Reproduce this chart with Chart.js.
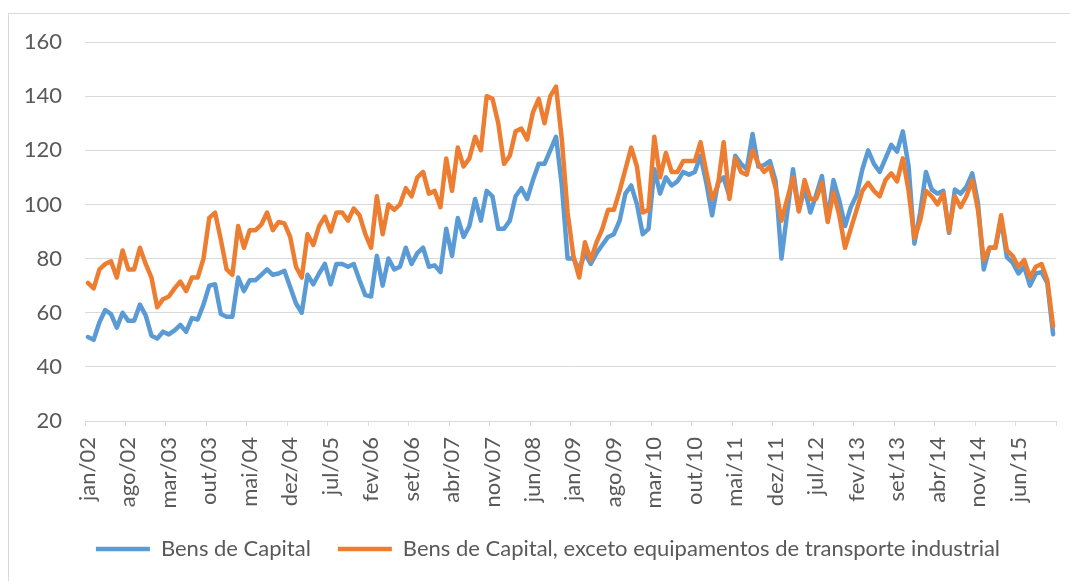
<!DOCTYPE html>
<html>
<head>
<meta charset="utf-8">
<script src="https://cdn.jsdelivr.net/npm/chart.js@4.4.1/dist/chart.umd.min.js"></script>
<style>
  html, body { margin: 0; padding: 0; background: #fff; overflow: hidden; }
  #frame { position: absolute; left: 8px; top: 13px; width: 1100px; height: 620px; border: 1px solid #d9d9d9; }
  #chart { position: absolute; left: 0; top: 0; }
</style>
</head>
<body>
<div id="frame"></div>
<canvas id="chart" width="1070" height="581"></canvas>
<script>
// months / years used for the category labels (jan/02 .. dez/15)
const monthNames = ['jan', 'fev', 'mar', 'abr', 'mai', 'jun', 'jul', 'ago', 'set', 'out', 'nov', 'dez'];
const years = ['02', '03', '04', '05', '06', '07', '08', '09', '10', '11', '12', '13', '14', '15'];

// Bens de Capital (one row per year)
const bensCapital = [
  51, 50, 56.5, 61, 59.5, 54.5, 60, 57, 57, 63, 59, 51.5,
  50.5, 53, 52, 53.5, 55.5, 53, 58, 57.5, 63, 70, 70.5, 59.5,
  58.5, 58.5, 73, 68, 72, 72, 74, 76, 74, 74.5, 75.5, 69.5,
  63.5, 60, 74, 70.5, 74.5, 78, 70.5, 78, 78, 77, 78, 72,
  66.5, 66, 81, 70, 80, 76, 77, 84, 78, 82, 84, 77,
  77.5, 75, 91, 81, 95, 88, 92, 102, 94, 105, 103, 91,
  91, 94, 103, 106, 102, 109, 115, 115, 120, 125, 107, 80,
  80, 76, 82, 78, 82, 85, 88, 89, 94, 104, 107, 100,
  89, 91, 113, 104, 110, 107, 108.5, 112, 111, 112, 118, 108,
  96, 108, 110, 103, 118, 115, 113, 126, 114, 114.5, 116, 108.5,
  80, 97, 113, 97.5, 106, 97, 103.5, 110.5, 94.5, 109, 101.5, 92,
  99, 103.5, 113, 120, 115, 112, 117, 122, 119.5, 127, 114, 85.5,
  97, 112, 105.5, 104, 105, 89.5, 105.5, 104, 106.5, 111.5, 100.5, 76,
  84, 84, 94.5, 80.5, 78.5, 74.5, 77, 70, 74.5, 75, 71, 52
];

// Bens de Capital, exceto equipamentos de transporte industrial
const bensCapitalExceto = [
  71, 69, 76, 78, 79, 73, 83, 76, 76, 84, 78, 73,
  62, 65, 66, 69, 71.5, 68, 73, 73, 80, 95, 97, 87,
  76, 74, 92, 84, 90.5, 90.5, 92.5, 97, 90.5, 93.5, 93, 88,
  77, 73, 89, 85, 92, 95.5, 90, 97, 97, 94, 98.5, 96,
  89, 84, 103, 89, 100, 98, 100, 106, 103, 110, 112, 104,
  105, 99, 117, 105, 121, 114, 117, 125, 120, 140, 139, 130,
  115, 118, 127, 128, 124, 134, 139, 130, 140, 143.5, 124, 97,
  81, 73, 86, 79.5, 86, 91, 98, 98, 105, 113, 121, 114,
  97, 98, 125, 110, 119, 112, 112, 116, 116, 116, 123, 112,
  102, 107, 123, 102, 117, 112, 111, 120, 115, 112, 114, 106,
  94, 102, 110, 97.5, 109, 102, 102, 108, 93.5, 104.5, 96, 84,
  91, 98, 105, 108, 105, 103, 109, 111.5, 108.5, 117, 105, 87.5,
  94, 105, 103, 100, 104, 90, 103, 99, 103, 109, 98, 79.5,
  84, 84, 96, 83, 81, 77, 79.5, 73, 77, 78, 72, 55
];

const categories = [];
years.forEach(y => monthNames.forEach(m => categories.push(m + '/' + y)));

const labelEvery = 7;
const gridColor = '#d9d9d9';
const textColor = '#595959';

// nudge the legend a bit to the right, like the original
const legendShift = {
  id: 'legendShift',
  afterLayout(chart) {
    if (chart.legend) {
      chart.legend.left += 20;
      chart.legend.right += 20;
    }
  }
};

function draw() {
  Chart.defaults.font.family = 'Lato, "Open Sans", sans-serif';
  Chart.defaults.font.size = 22;
  Chart.defaults.color = textColor;

  new Chart(document.getElementById('chart'), {
    type: 'line',
    data: {
      labels: categories,
      datasets: [{
        label: 'Bens de Capital',
        data: bensCapital,
        borderColor: '#5b9bd5',
        backgroundColor: '#5b9bd5',
        borderWidth: 4.5,
        borderJoinStyle: 'round',
        borderCapStyle: 'round',
        pointRadius: 0,
        tension: 0,
        order: 1
      }, {
        label: 'Bens de Capital, exceto equipamentos de transporte industrial',
        data: bensCapitalExceto,
        borderColor: '#ed7d31',
        backgroundColor: '#ed7d31',
        borderWidth: 4.5,
        borderJoinStyle: 'round',
        borderCapStyle: 'round',
        pointRadius: 0,
        tension: 0,
        order: 0
      }]
    },
    options: {
      responsive: false,
      animation: false,
      layout: { padding: { left: 0, right: 14, top: 42, bottom: 11 } },
      plugins: {
        tooltip: { enabled: false },
        legend: {
          position: 'bottom',
          labels: {
            usePointStyle: true,
            pointStyle: 'line',
            pointStyleWidth: 54,
            padding: 27,
            color: textColor,
            font: { size: 22 },
            sort: (a, b) => a.datasetIndex - b.datasetIndex
          }
        }
      },
      scales: {
        x: {
          type: 'category',
          offset: true,
          afterFit: (scale) => {
            scale.height = 90;
            scale.paddingLeft = 0;
            scale.paddingRight = 0;
          },
          grid: {
            offset: true,
            drawOnChartArea: false,
            drawTicks: true,
            tickLength: 5,
            color: (c) => (c.index === undefined || c.index % labelEvery === 0) ? gridColor : 'rgba(0,0,0,0)'
          },
          border: { color: gridColor },
          ticks: {
            autoSkip: false,
            minRotation: 90,
            maxRotation: 90,
            padding: 11,
            color: textColor,
            callback: function (val, i) {
              return i % labelEvery === 0 ? this.getLabelForValue(val) : '';
            }
          }
        },
        y: {
          min: 20,
          max: 160,
          afterFit: (scale) => { scale.width = 85; },
          grid: { color: gridColor, drawTicks: false },
          border: { display: false },
          ticks: { stepSize: 20, padding: 23, color: textColor }
        }
      }
    },
    plugins: [legendShift]
  });
}

if (document.fonts && document.fonts.load) {
  document.fonts.load('22px Lato').then(draw, draw);
} else {
  draw();
}
</script>
</body>
</html>
